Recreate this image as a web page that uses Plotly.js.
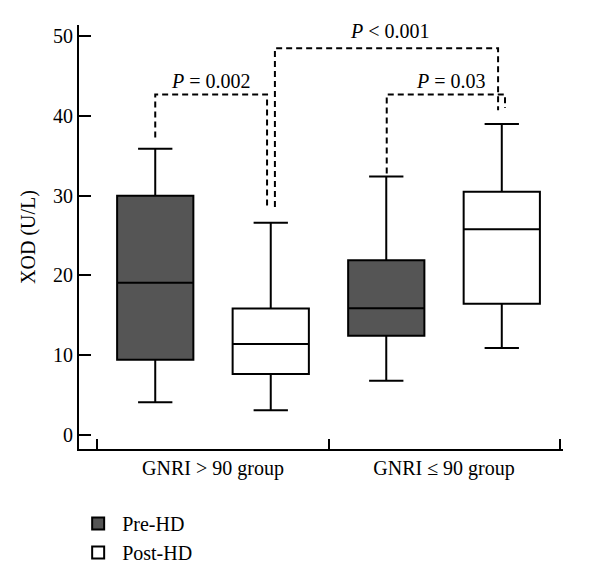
<!DOCTYPE html>
<html>
<head>
<meta charset="utf-8">
<script src="https://cdn.plot.ly/plotly-3.0.1.min.js"></script>
<style>html,body{margin:0;padding:0;background:#fff;}#chart{width:600px;height:584px;}</style>
</head>
<body>
<div id="chart"></div>
<script>
// ---- data ----
const groups = ['GNRI > 90 group', 'GNRI \u2264 90 group'];
const seriesNames = ['Pre-HD', 'Post-HD'];
// Pre-HD
const preLower  = [4.1, 6.8];
const preQ1     = [9.45, 12.45];
const preMedian = [19.1, 15.9];
const preQ3     = [30.0, 21.9];
const preUpper  = [35.9, 32.4];
// Post-HD
const postLower  = [3.1, 10.9];
const postQ1     = [7.65, 16.45];
const postMedian = [11.4, 25.8];
const postQ3     = [15.85, 30.5];
const postUpper  = [26.6, 39.0];
// y ticks
const yTicks = [0, 10, 20, 30, 40, 50];
// comparisons
const pLabels = ['<i>P</i> = 0.002', '<i>P</i> < 0.001', '<i>P</i> = 0.03'];

const serif = 'Liberation Serif, Times New Roman, serif';

const traces = [
  {
    type: 'box', name: seriesNames[0], x: groups,
    lowerfence: preLower, q1: preQ1, median: preMedian, q3: preQ3, upperfence: preUpper,
    fillcolor: '#555555', line: {color: '#000', width: 2}, whiskerwidth: 0.45,
    hoverinfo: 'skip'
  },
  {
    type: 'box', name: seriesNames[1], x: groups,
    lowerfence: postLower, q1: postQ1, median: postMedian, q3: postQ3, upperfence: postUpper,
    fillcolor: '#ffffff', line: {color: '#000', width: 2}, whiskerwidth: 0.45,
    hoverinfo: 'skip'
  }
];

const dashLine = {color: '#000', width: 2, dash: '6px,4px'};
function bracket(pts) {
  const d = pts.map((p, i) => (i ? 'L' : 'M') + p[0] + ',' + p[1]).join(' ');
  return {type: 'path', xref: 'x', yref: 'y', path: d, line: dashLine};
}

const shapes = [
  bracket([[-0.25, 37.3], [-0.25, 42.7], [0.234, 42.7], [0.234, 28.6]]),
  bracket([[0.268, 28.6], [0.268, 48.5], [1.234, 48.5], [1.234, 40.7]]),
  bracket([[0.752, 32.8], [0.752, 42.7], [1.264, 42.7], [1.264, 41.0]])
];

const annotations = [
  {x: -0.01, y: 44.4, text: pLabels[0]},
  {x: 0.765, y: 50.6, text: pLabels[1]},
  {x: 1.03, y: 44.4, text: pLabels[2]}
].map(a => Object.assign({xref: 'x', yref: 'y', showarrow: false, xanchor: 'center', yanchor: 'middle',
  font: {family: serif, size: 20, color: '#000'}}, a));

const layout = {
  width: 600, height: 584,
  margin: {l: 79, r: 37, t: 25, b: 135},
  paper_bgcolor: '#fff', plot_bgcolor: '#fff',
  boxmode: 'group', boxgap: 0, boxgroupgap: 0.34,
  font: {family: serif, size: 19, color: '#000'},
  xaxis: {
    type: 'category', range: [-0.58, 1.515],
    showline: true, linecolor: '#000', linewidth: 2,
    ticks: 'inside', tickson: 'boundaries', ticklen: 10, tickwidth: 2, tickcolor: '#000',
    showgrid: false, zeroline: false,
    tickfont: {family: serif, size: 20, color: '#000'}
  },
  yaxis: {
    range: [-1.75, 51.4], tickvals: yTicks, ticktext: yTicks.map(String),
    showline: true, linecolor: '#000', linewidth: 2,
    ticks: 'inside', ticklen: 12, tickwidth: 2, tickcolor: '#000',
    showgrid: false, zeroline: false,
    tickfont: {family: serif, size: 20, color: '#000'},
    title: {text: 'XOD (U/L)', font: {family: serif, size: 20, color: '#000'}, standoff: 12}
  },
  showlegend: true,
  legend: {
    x: -0.01, xanchor: 'left', y: -0.13, yanchor: 'top',
    font: {family: serif, size: 20, color: '#000'},
    bgcolor: 'rgba(0,0,0,0)', tracegroupgap: 0, itemwidth: 38
  },
  shapes: shapes,
  annotations: annotations
};

Plotly.newPlot('chart', traces, layout, {displayModeBar: false, staticPlot: true});
</script>
</body>
</html>
